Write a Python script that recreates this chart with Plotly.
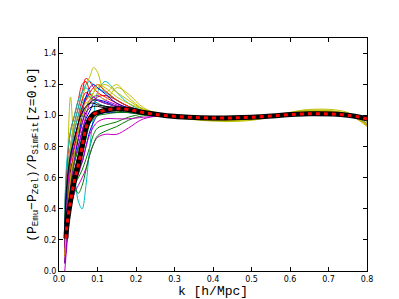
import plotly.graph_objects as go

K = [0.015, 0.02, 0.03, 0.04, 0.05, 0.06, 0.07, 0.08, 0.09, 0.1, 0.12, 0.15, 0.18, 0.22, 0.28, 0.4, 0.5, 0.65, 0.75, 0.8]

CURVES = [
    [0.10,0.30,0.55,0.70,0.80,0.90,0.98,1.03,1.08,1.10,1.09,1.06,1.04,1.02,1.00,0.98,0.985,1.01,1.00,0.97],
    [0.05,0.20,0.45,0.55,0.60,0.65,0.72,0.80,0.88,0.92,0.94,0.96,0.99,1.01,1.00,0.985,0.99,1.015,1.005,0.975],
    [0.30,0.55,0.80,0.95,1.05,1.15,1.24,1.22,1.18,1.15,1.12,1.08,1.05,1.03,1.00,0.975,0.98,1.02,1.005,0.94],
    [0.20,0.40,0.65,0.60,0.45,0.40,0.55,0.80,1.00,1.15,1.22,1.15,1.08,1.03,1.00,0.98,0.985,1.02,1.01,0.965],
    [0.00,0.15,0.40,0.50,0.55,0.60,0.66,0.75,0.82,0.86,0.88,0.88,0.92,0.98,1.00,0.985,0.99,1.01,1.005,0.98],
    [0.25,0.50,1.12,0.85,0.95,1.10,1.20,1.25,1.31,1.28,1.15,1.20,1.12,1.04,1.00,0.97,0.975,1.035,1.01,0.93],
    [0.20,0.45,0.65,0.75,0.85,0.95,1.02,1.05,1.06,1.06,1.05,1.05,1.04,1.02,1.00,0.98,0.985,1.01,1.00,0.975],
    [0.15,0.35,0.60,0.72,0.85,1.00,1.12,1.14,1.12,1.10,1.08,1.06,1.04,1.02,1.00,0.98,0.985,1.015,1.005,0.97],
    [0.10,0.30,0.55,0.65,0.70,0.75,0.85,0.95,1.00,1.02,1.03,1.03,1.02,1.01,1.00,0.985,0.99,1.012,1.003,0.98],
    [0.05,0.25,0.70,0.90,1.00,1.10,1.15,1.12,1.10,1.12,1.13,1.10,1.06,1.03,1.00,0.975,0.98,1.025,1.01,0.95],
    [0.35,0.60,0.80,0.95,1.05,1.15,1.20,1.22,1.20,1.18,1.15,1.10,1.06,1.03,1.00,0.978,0.982,1.02,1.005,0.95],
    [0.10,0.30,0.55,0.70,0.80,0.90,1.00,1.08,1.12,1.13,1.10,1.07,1.04,1.02,1.00,0.98,0.985,1.015,1.005,0.975],
    [0.30,0.55,0.80,0.95,1.00,1.05,1.08,1.10,1.12,1.14,1.10,1.18,1.14,1.05,1.00,0.965,0.97,1.04,1.02,0.935],
    [0.25,0.50,0.70,0.80,0.90,1.00,1.05,1.08,1.10,1.10,1.08,1.06,1.04,1.02,1.00,0.98,0.985,1.012,1.003,0.975],
    [0.05,0.20,0.50,0.60,0.65,0.70,0.80,0.90,0.96,1.00,1.02,1.02,1.02,1.01,1.00,0.99,0.99,1.008,1.00,0.985],
    [0.15,0.40,0.60,0.55,0.50,0.55,0.65,0.75,0.82,0.87,0.90,0.93,0.97,1.00,1.00,0.99,0.99,1.01,1.00,0.985],
    [0.40,0.65,0.90,1.00,1.10,1.20,1.22,1.15,1.10,1.08,1.06,1.05,1.04,1.02,1.00,0.978,0.982,1.02,1.01,0.97],
    [0.30,0.55,0.75,0.90,1.00,1.08,1.12,1.12,1.10,1.08,1.06,1.05,1.04,1.02,1.00,0.98,0.985,1.015,1.005,0.97],
    [0.05,0.20,0.45,0.55,0.62,0.70,0.80,0.88,0.93,0.96,0.98,0.98,0.98,0.99,1.00,0.99,0.99,1.005,1.00,0.99],
    [0.20,0.45,0.70,0.85,0.95,1.05,1.10,1.12,1.15,1.18,1.20,1.15,1.10,1.04,1.00,0.97,0.975,1.03,1.01,0.945],
    [0.15,0.35,0.55,0.65,0.75,0.85,0.95,1.00,1.02,1.03,1.04,1.04,1.03,1.02,1.00,0.985,0.99,1.01,1.00,0.98],
    [0.25,0.50,0.72,0.85,0.95,1.05,1.12,1.18,1.20,1.18,1.14,1.08,1.05,1.02,1.00,0.978,0.983,1.018,1.008,0.968],
    [0.20,0.40,0.60,0.70,0.78,0.85,0.90,0.95,0.98,1.00,1.01,1.02,1.02,1.01,1.00,0.988,0.99,1.01,1.00,0.98],
    [0.10,0.35,0.60,0.80,0.95,1.05,1.10,1.15,1.18,1.20,1.16,1.10,1.06,1.03,1.00,0.976,0.98,1.022,1.012,0.966],
    [0.40,0.70,0.90,1.00,1.10,1.15,1.18,1.15,1.12,1.10,1.08,1.06,1.04,1.02,1.00,0.98,0.984,1.016,1.006,0.97],
    [0.15,0.40,0.72,0.80,0.85,0.95,1.05,1.10,1.12,1.10,1.08,1.06,1.04,1.02,1.00,0.98,0.985,1.014,1.004,0.975],
    [0.10,0.30,0.60,0.75,0.90,1.00,1.05,1.10,1.15,1.20,1.18,1.12,1.08,1.04,1.00,0.972,0.978,1.028,1.014,0.962],
    [0.30,0.55,0.75,0.85,0.95,1.02,1.06,1.08,1.08,1.07,1.06,1.05,1.04,1.02,1.00,0.98,0.985,1.012,1.003,0.975],
]

COLORS = ["#0000ff", "#008000", "#ff0000", "#00bfbf", "#bf00bf", "#bfbf00", "#000000"]

K_MEAN = [0.018, 0.02, 0.03, 0.04, 0.05, 0.06, 0.07, 0.08, 0.09, 0.1, 0.12, 0.15, 0.18, 0.22, 0.28, 0.4, 0.5, 0.65, 0.75, 0.8]
MEAN = [0.21, 0.28, 0.45, 0.58, 0.68, 0.80, 0.92, 0.98, 1.01, 1.02, 1.035, 1.045, 1.04, 1.02, 1.00, 0.985, 0.99, 1.012, 1.003, 0.98]

X_TICKS = [0.0, 0.1, 0.2, 0.3, 0.4, 0.5, 0.6, 0.7, 0.8]
Y_TICKS = [0.0, 0.2, 0.4, 0.6, 0.8, 1.0, 1.2, 1.4]

fig = go.Figure()
for i, c in enumerate(CURVES):
    fig.add_trace(go.Scatter(x=K, y=c, mode="lines",
                             line=dict(color=COLORS[i % len(COLORS)], width=1, shape="spline", smoothing=1.0),
                             showlegend=False, hoverinfo="skip"))
fig.add_trace(go.Scatter(x=K_MEAN, y=MEAN, mode="lines",
                         line=dict(color="black", width=5, shape="spline", smoothing=1.0),
                         showlegend=False))
fig.add_trace(go.Scatter(x=K_MEAN, y=MEAN, mode="lines",
                         line=dict(color="red", width=3, dash="4px,4px", shape="spline", smoothing=1.0),
                         showlegend=False))

axis_common = dict(showline=True, linecolor="black", linewidth=1, mirror="ticks",
                   ticks="inside", ticklen=4, tickcolor="black", showgrid=False, zeroline=False,
                   tickfont=dict(family="DejaVu Sans", size=8, color="black"))

fig.update_xaxes(range=[0, 0.8], tickvals=X_TICKS, ticktext=[f"{v:.1f}" for v in X_TICKS],
                 title=dict(text="k [h/Mpc]", font=dict(family="Liberation Mono", size=13, color="black"), standoff=2),
                 **axis_common)
fig.update_yaxes(range=[0, 1.5], tickvals=Y_TICKS, ticktext=[f"{v:.1f}" for v in Y_TICKS],
                 title=dict(text="(P<sub>Emu</sub>−P<sub>Zel</sub>)/P<sub>SimFit</sub>[z=0.0]",
                            font=dict(family="Liberation Mono", size=13, color="black"), standoff=4),
                 **axis_common)

fig.update_layout(width=399, height=299, margin=dict(l=51, r=40, t=30, b=31),
                  plot_bgcolor="white", paper_bgcolor="white")

fig.write_html("out.html")
